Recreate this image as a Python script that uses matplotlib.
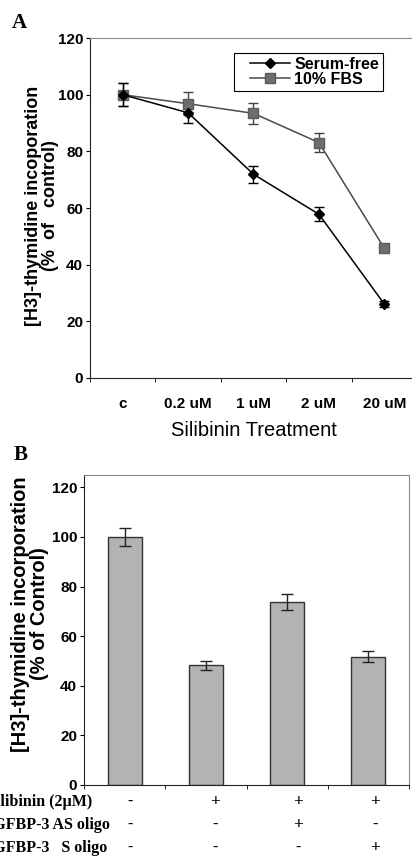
import numpy as np
import matplotlib
matplotlib.use("Agg")
import matplotlib.pyplot as plt
from matplotlib.legend_handler import HandlerLine2D

# Panel A data
doses = ["c", "0.2 uM", "1 uM", "2 uM", "20 uM"]
serum_free = [100, 93.6, 71.9, 57.8, 26.1]
serum_free_err = [4.0, 3.5, 3.0, 2.5, 1.0]
fbs = [100, 96.8, 93.4, 83.1, 45.8]
fbs_err = [4.0, 4.0, 3.7, 3.2, 1.2]

# Panel B data
bar_vals = [100, 48.2, 73.8, 51.8]
bar_err = [3.8, 1.8, 3.2, 2.2]
row_labels = ["Silibinin (2\u00b5M)", "IGFBP-3 AS oligo", "IGFBP-3   S oligo"]
row_signs = [["-", "+", "+", "+"],
             ["-", "-", "+", "-"],
             ["-", "-", "-", "+"]]

W, H = 412, 857
sans = "Liberation Sans"
serif = "Liberation Serif"

fig = plt.figure(figsize=(W / 100, H / 100), dpi=100)


def px_axes(left, top, right, bottom):
    return fig.add_axes([left / W, 1 - bottom / H, (right - left) / W, (bottom - top) / H])


def style_axes(ax):
    for side in ("top", "right"):
        ax.spines[side].set_color("#888888")
        ax.spines[side].set_linewidth(0.8)
    ax.spines["left"].set_color("#222222")
    ax.spines["bottom"].set_color("#222222")
    ax.tick_params(axis="y", direction="out", length=3, width=0.8, pad=2)
    for lab in ax.get_yticklabels():
        lab.set_fontfamily(sans)
        lab.set_fontweight("bold")
        lab.set_fontsize(11)


# ---- Panel A ----
axA = px_axes(90, 38, 417, 378)
x = np.arange(len(doses))
eb = dict(fmt="none", capsize=3.5, elinewidth=1, capthick=1)
axA.errorbar(x, serum_free, yerr=serum_free_err, ecolor="black", zorder=3, **eb)
axA.errorbar(x, fbs, yerr=fbs_err, ecolor="#444444", zorder=2, **eb)
l1, = axA.plot(x, serum_free, color="black", marker="D", markersize=5.5,
               linewidth=1.1, label="Serum-free", zorder=4)
l2, = axA.plot(x, fbs, color="#4a4a4a", marker="s", markerfacecolor="#6e6e6e",
               markeredgecolor="#5a5a5a", markersize=7, linewidth=1.1,
               label="10% FBS", zorder=3)
axA.set_xlim(-0.5, len(doses) - 0.5)
axA.set_ylim(0, 120)
axA.set_yticks(range(0, 121, 20))
axA.set_xticks(x)
axA.set_xticklabels(doses, fontfamily=sans, fontweight="bold", fontsize=11)
axA.tick_params(axis="x", which="major", length=0, pad=14)
axA.set_xticks(np.arange(-0.5, len(doses)), minor=True)
axA.tick_params(axis="x", which="minor", length=3, direction="out")
style_axes(axA)
axA.set_xlabel("Silibinin Treatment", fontfamily=sans, fontsize=14.5, labelpad=7)
hmap = {l1: HandlerLine2D(xpad=0.8), l2: HandlerLine2D(xpad=0.8)}
leg = axA.legend(handles=[l1, l2], handler_map=hmap, loc="upper right",
                 bbox_to_anchor=(0.896, 0.956), frameon=True,
                 fancybox=False, edgecolor="black", framealpha=1,
                 prop={"family": sans, "weight": "bold", "size": 11.5},
                 labelspacing=0.0, handlelength=3.3, handletextpad=0.25,
                 borderpad=0.25, borderaxespad=0)
leg.get_frame().set_linewidth(0.8)

fig.text(42 / W, 1 - 206 / H, "[H3]-thymidine incoporation\n(%  of   control)",
         rotation=90, ha="center", va="center", fontfamily=sans,
         fontweight="bold", fontsize=13, linespacing=1.05)
fig.text(12 / W, 1 - 23 / H, "A", fontfamily=serif, fontweight="bold",
         fontsize=15, ha="left", va="center")

# ---- Panel B ----
axB = px_axes(84, 475, 409, 785)
xb = np.arange(len(bar_vals))
axB.bar(xb, bar_vals, width=0.42, color="#b3b3b3", edgecolor="#333333",
        linewidth=1, yerr=bar_err, capsize=4,
        error_kw={"elinewidth": 1, "capthick": 1, "ecolor": "#222222"})
axB.set_xlim(-0.5, len(bar_vals) - 0.5)
axB.set_ylim(0, 125)
axB.set_yticks(range(0, 121, 20))
axB.set_xticks([])
axB.set_xticks(np.arange(-0.5, len(bar_vals)), minor=True)
axB.tick_params(axis="x", which="minor", length=3, direction="out")
style_axes(axB)

fig.text(30 / W, 1 - 614 / H, "[H3]-thymidine incorporation\n(% of Control)",
         rotation=90, ha="center", va="center", fontfamily=sans,
         fontweight="bold", fontsize=14.5, linespacing=1.0)
fig.text(14 / W, 1 - 455 / H, "B", fontfamily=serif, fontweight="bold",
         fontsize=15, ha="left", va="center")

# condition table under panel B (labels run off the left edge as in the source)
sign_x = [130, 215, 298, 375]
row_y = [802, 825, 848]
for r, lab in enumerate(row_labels):
    fig.text(-13 / W, 1 - row_y[r] / H, lab, fontfamily=serif, fontweight="bold",
             fontsize=11.5, ha="left", va="center")
    for c, s in enumerate(row_signs[r]):
        fig.text(sign_x[c] / W, 1 - row_y[r] / H, s, fontfamily=serif,
                 fontweight="bold", fontsize=12.5 if s == "+" else 11.5,
                 ha="center", va="center")

fig.savefig("out.png", dpi=100)
